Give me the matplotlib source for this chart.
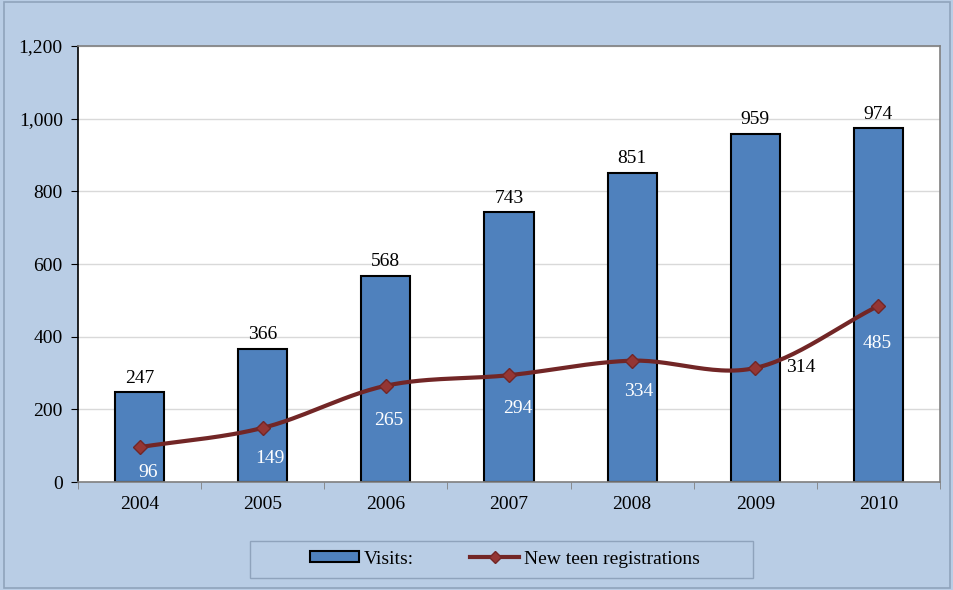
import matplotlib
matplotlib.use("Agg")
import matplotlib.pyplot as plt
import numpy as np
from matplotlib.lines import Line2D
from matplotlib.patches import Patch, Rectangle

years = ["2004", "2005", "2006", "2007", "2008", "2009", "2010"]
visits = [247, 366, 568, 743, 851, 959, 974]
registrations = [96, 149, 265, 294, 334, 314, 485]
yticks = [0, 200, 400, 600, 800, 1000, 1200]

plt.rcParams['font.family'] = ['Liberation Serif', 'DejaVu Serif']

BG = "#B9CDE5"
BAR = "#4F81BD"
LINE = "#722626"
MARK = "#943634"
FS = 14

fig = plt.figure(figsize=(9.54, 5.90), dpi=100, facecolor=BG)
fig.patches.append(Rectangle((0.004, 0.004), 0.992, 0.992, transform=fig.transFigure,
                             fill=False, edgecolor="#8FA3BC", linewidth=1.2))
ax = fig.add_axes([0.0818, 0.183, 0.9035, 0.739])
ax.set_facecolor("white")

x = np.arange(len(years))
ax.bar(x, visits, width=0.4, color=BAR, edgecolor="black", linewidth=1.5, zorder=2)

# smooth curve (Catmull-Rom through the data points)
def catmull(xs, ys, n=30):
    xs = np.asarray(xs, float); ys = np.asarray(ys, float)
    px = np.concatenate([[2*xs[0]-xs[1]], xs, [2*xs[-1]-xs[-2]]])
    py = np.concatenate([[2*ys[0]-ys[1]], ys, [2*ys[-1]-ys[-2]]])
    outx, outy = [], []
    for i in range(1, len(px)-2):
        t = np.linspace(0, 1, n)
        for P, out in ((px, outx), (py, outy)):
            p0, p1, p2, p3 = P[i-1], P[i], P[i+1], P[i+2]
            out.extend(0.5*((2*p1) + (-p0+p2)*t + (2*p0-5*p1+4*p2-p3)*t**2 + (-p0+3*p1-3*p2+p3)*t**3))
    return outx, outy

cx, cy = catmull(x, registrations)
ax.plot(cx, cy, color=LINE, linewidth=3, zorder=3, solid_capstyle="round")
ax.plot(x, registrations, linestyle="none", marker="D", markersize=7, color=MARK,
        markeredgecolor=LINE, zorder=4)

for xi, v in zip(x, visits):
    ax.annotate(f"{v}", (xi, v), xytext=(0, 4), textcoords="offset points",
                ha="center", va="bottom", fontsize=FS, color="black", zorder=5)

label_offsets = [(6, -18), (5, -22), (2, -25), (6, -24), (5, -22), (22, 0), (-1, -27)]
label_colors = ["white", "white", "white", "white", "white", "black", "white"]
for xi, v, (dx, dy), c in zip(x, registrations, label_offsets, label_colors):
    ax.annotate(f"{v}", (xi, v), xytext=(dx, dy), textcoords="offset points",
                ha="left" if c == "black" else "center", va="center",
                fontsize=FS, color=c, zorder=5)

ax.set_xlim(-0.5, len(years) - 0.5)
ax.set_ylim(0, 1200)
ax.set_yticks(yticks)
ax.set_yticklabels([f"{t:,}" for t in yticks], fontsize=FS)
ax.set_xticks(x)
ax.set_xticklabels(years, fontsize=FS)
ax.set_xticks(np.arange(-0.5, len(years), 1), minor=True)
ax.tick_params(axis="x", which="major", length=0, pad=10)
ax.tick_params(axis="x", which="minor", length=5, color="#808080", direction="out")
ax.tick_params(axis="y", length=5, direction="out", pad=6)
ax.grid(axis="y", color="#D9D9D9", linewidth=1, zorder=0)
ax.set_axisbelow(True)

ax.spines["left"].set_color("black")
ax.spines["bottom"].set_color("#808080")
ax.spines["top"].set_color("#808080")
ax.spines["right"].set_color("#808080")
for s in ax.spines.values():
    s.set_linewidth(1.2)

# legend frame
fig.patches.append(Rectangle((250/954, 1 - 578/590), 503/954, 37/590, transform=fig.transFigure,
                             facecolor=BG, edgecolor="#8FA3BC", linewidth=1.0))
handles = [Patch(facecolor=BAR, edgecolor="black", linewidth=1.5, label="Visits:"),
           Line2D([0], [0], color=LINE, linewidth=3, marker="D", markersize=6,
                  markerfacecolor=MARK, markeredgecolor=LINE, label="New teen registrations")]
leg = fig.legend(handles=handles, loc="center", bbox_to_anchor=(505/954, 1 - 559/590), ncol=2,
                 fontsize=FS, frameon=False,
                 handlelength=2.5, handleheight=0.5, columnspacing=2.9, borderpad=0.2,
                 handletextpad=0.25)

fig.savefig("out.png", dpi=100, facecolor=BG)
